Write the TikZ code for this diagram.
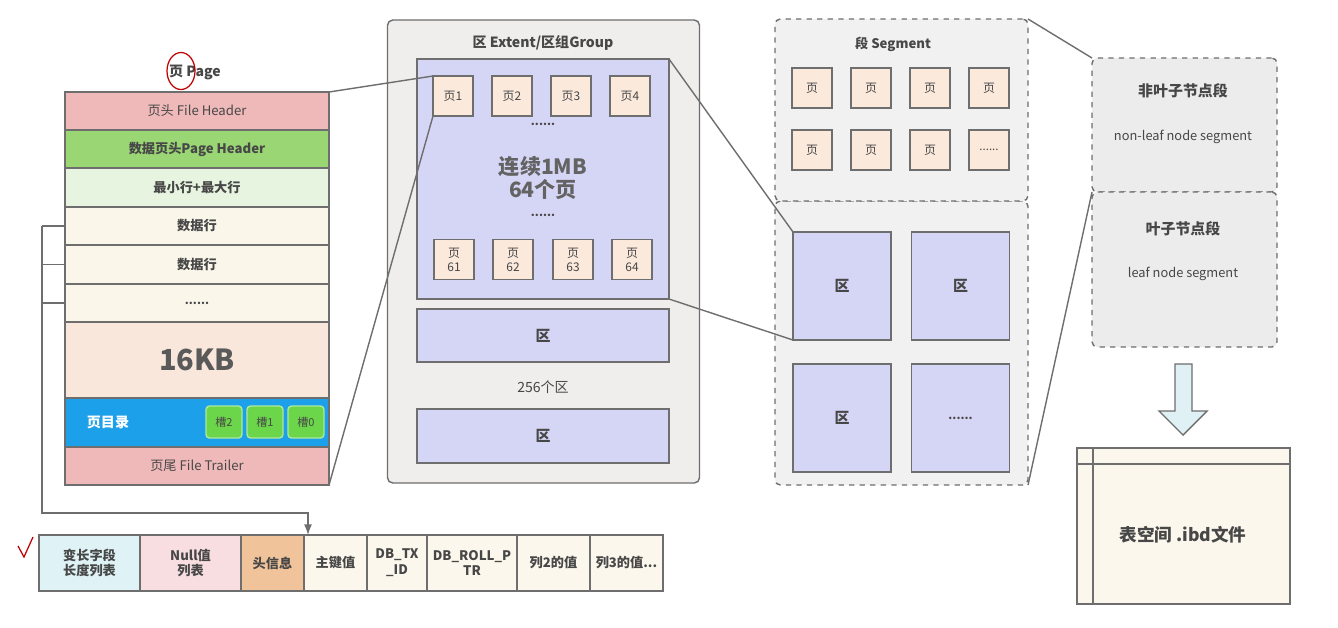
\documentclass[tikz,border=0pt]{standalone}
\usepackage{fontspec}
\setmainfont{Noto Sans CJK SC}
\usetikzlibrary{arrows.meta}
\definecolor{edge}{HTML}{6E6E6E}
\definecolor{txt}{HTML}{474747}
\definecolor{hdrc}{HTML}{F0B9B9}
\definecolor{phdrc}{HTML}{9AD674}
\definecolor{minc}{HTML}{E7F4DF}
\definecolor{rowc}{HTML}{FAF6EA}
\definecolor{kbc}{HTML}{F8E7DA}
\definecolor{dirc}{HTML}{1DA0EA}
\definecolor{slotc}{HTML}{6CD64B}
\definecolor{greyc}{HTML}{EFEEEC}
\definecolor{lavc}{HTML}{D5D5F5}
\definecolor{pagec}{HTML}{FBE9DC}
\definecolor{segc}{HTML}{F1F1F1}
\definecolor{leafc}{HTML}{ECECEC}
\definecolor{arrc}{HTML}{DFF1F5}
\definecolor{filec}{HTML}{FBF7EC}
\definecolor{varc}{HTML}{DFF3F7}
\definecolor{nullc}{HTML}{F9DEE1}
\definecolor{headc}{HTML}{F1C39B}
\tikzset{
  cell/.style 2 args={draw=edge,line width=0.8pt,inner sep=0pt,outer sep=0pt,
    minimum width=#1*0.02cm,minimum height=#2*0.02cm,text=txt,align=center,
    font=\fontsize{7.5}{9}\selectfont},
  pg/.style={cell={40}{40},fill=pagec,font=\fontsize{6.8}{8}\selectfont},
  lbl/.style={text=txt,inner sep=0pt},
  >={Latex[length=6pt,width=4.5pt]}
}
\begin{document}
\begin{tikzpicture}[x=0.02cm,y=-0.02cm]
    \useasboundingbox[fill=white] (0,0) rectangle (1338,627);
    % page
    \node[lbl,font=\fontsize{8}{9}\selectfont\bfseries] (pagetitle) at (195,72) {页 Page};
    \draw[red!75!black,line width=0.7pt] (181,71) ellipse [x radius=0.28cm, y radius=0.37cm];
    \node[cell={264}{38},fill=hdrc] (hdr) at (197,111) {页头 File Header};
    \node[cell={264}{38},fill=phdrc,font=\fontsize{7.5}{9}\selectfont\bfseries] (phdr) at (197,149) {数据页头Page Header};
    \node[cell={264}{39},fill=minc,font=\fontsize{7.5}{9}\selectfont\bfseries] (minmax) at (197,187.5) {最小行+最大行};
    \node[cell={264}{38},fill=rowc,font=\fontsize{7.5}{9}\selectfont\bfseries] (row1) at (197,226) {数据行};
    \node[cell={264}{39},fill=rowc,font=\fontsize{7.5}{9}\selectfont\bfseries] (row2) at (197,264.5) {数据行};
    \node[cell={264}{38},fill=rowc,font=\fontsize{6.5}{7}\selectfont\bfseries] (rowdots) at (197,303) {......};
    \node[cell={264}{76},fill=kbc,text=txt!90!white,font=\fontsize{16.5}{19}\selectfont\bfseries] (kb) at (197,360) {16KB};
    \node[cell={264}{49},fill=dirc] (dir) at (197,422.5) {};
    \node[lbl,text=white,font=\fontsize{8}{9}\selectfont\bfseries] (dirname) at (108,422.5) {页目录};
    \foreach \i/\x in {2/224,1/265,0/306}
      \node[cell={36}{32},fill=slotc,draw=slotc!55!white,rounded corners=2pt,font=\fontsize{6.3}{7}\selectfont] (slot\i) at (\x,422) {槽\i};
    \node[cell={264}{38},fill=hdrc] (trl) at (197,466) {页尾 File Trailer};
    % record
    \node[cell={101}{56},fill=varc,font=\fontsize{7.5}{9}\selectfont\bfseries] (var) at (89.5,563) {变长字段\\长度列表};
    \node[cell={101}{56},fill=nullc,font=\fontsize{7.5}{9}\selectfont\bfseries] (nul) at (190.5,563) {Null值\\列表};
    \node[cell={63}{56},fill=headc,font=\fontsize{7.5}{9}\selectfont\bfseries] (head) at (272.5,563) {头信息};
    \node[cell={63}{56},fill=filec,font=\fontsize{7.5}{9}\selectfont\bfseries] (pk) at (335.5,563) {主键值};
    \node[cell={60}{56},fill=filec,font=\fontsize{7.5}{9}\selectfont\bfseries] (trx) at (397,563) {DB\_TX\\\_ID};
    \node[cell={90}{56},fill=filec,font=\fontsize{7.5}{9}\selectfont\bfseries] (roll) at (472,563) {DB\_ROLL\_P\\TR};
    \node[cell={73}{56},fill=filec,font=\fontsize{7.5}{9}\selectfont\bfseries] (col2) at (553.5,563) {列2的值};
    \node[cell={73}{56},fill=filec,font=\fontsize{7.5}{9}\selectfont\bfseries] (col3) at (626.5,563) {列3的值...};
    \draw[red!75!black,line width=0.7pt] (18,546) -- (24,557) -- (33,537);
    \coordinate (bend) at (42,513);
    \foreach \r in {row1,row2,rowdots}
      \draw[edge,line width=0.8pt] (\r.west) -- (42,0 |- \r.west);
    \draw[edge,line width=0.8pt,->] (42,226) -- (bend) -- (308,513) -- (308,0 |- pk.north);
    % extent
    \node[cell={312}{463},fill=greyc,rounded corners=3pt] (extent) at (543.5,251.5) {};
    \node[lbl,font=\fontsize{8}{9}\selectfont\bfseries] (extitle) at (543,43) {区 Extent/区组Group};
    \node[cell={252}{240},fill=lavc] (ext1) at (543,179) {};
    \foreach \i/\x in {1/453,2/512,3/571,4/630}
      \node[pg] (p\i) at (\x,96) {页\i};
    \foreach \i/\x in {61/454,62/513,63/573,64/632}
      \node[pg] (p\i) at (\x,259.5) {页\\\i};
    \node[lbl,font=\fontsize{6.5}{7}\selectfont\bfseries] (dots1) at (543,124) {......};
    \node[lbl,font=\fontsize{6.5}{7}\selectfont\bfseries] (dots2) at (543,215) {......};
    \node[lbl,align=center,font=\fontsize{12}{13.5}\selectfont\bfseries,text=txt!85!white] (mb) at (543,178) {连续1MB\\64个页};
    \node[cell={252}{53},fill=lavc,font=\fontsize{8.5}{10}\selectfont\bfseries] (ext2) at (543,335.5) {区};
    \node[lbl,font=\fontsize{8}{9}\selectfont] (cnt) at (543,387) {256个区};
    \node[cell={252}{54},fill=lavc,font=\fontsize{8.5}{10}\selectfont\bfseries] (ext3) at (543,436) {区};
    \draw[edge,line width=0.8pt] (hdr.north east) -- (p1.north west);
    \draw[edge,line width=0.8pt] (trl.south east) -- (p1.south west);
    % segment
    \node[cell={253}{284},fill=segc,dashed,rounded corners=3pt] (segbot) at (901.5,343) {};
    \node[cell={253}{182},fill=segc,dashed,rounded corners=3pt] (segtop) at (901.5,110) {};
    \node[lbl,font=\fontsize{7.5}{9}\selectfont\bfseries] (segtitle) at (893,44) {段 Segment};
    \foreach \i/\x in {1/812,2/871,3/930,4/989}
      \node[pg] (s\i) at (\x,88) {页};
    \foreach \i/\x in {5/812,6/871,7/930}
      \node[pg] (s\i) at (\x,150) {页};
    \node[pg,font=\fontsize{6.5}{7}\selectfont] (s8) at (989,150) {......};
    \node[cell={98}{108},fill=lavc,font=\fontsize{8.5}{10}\selectfont\bfseries] (q1) at (842,286) {区};
    \node[cell={98}{108},fill=lavc,font=\fontsize{8.5}{10}\selectfont\bfseries] (q2) at (960.5,286) {区};
    \node[cell={98}{108},fill=lavc,font=\fontsize{8.5}{10}\selectfont\bfseries] (q3) at (842,418) {区};
    \node[cell={98}{108},fill=lavc,font=\fontsize{6.5}{7}\selectfont\bfseries] (q4) at (960.5,418) {......};
    \draw[edge,line width=0.8pt] (ext1.north east) -- (q1.north west);
    \draw[edge,line width=0.8pt] (ext1.south east) -- (q1.south west);
    % leaf / non-leaf
    \node[cell={185}{134},fill=leafc,dashed,rounded corners=3pt] (nonleaf) at (1184.5,125) {};
    \node[cell={185}{155},fill=leafc,dashed,rounded corners=3pt] (leaf) at (1184.5,269.5) {};
    \node[lbl,font=\fontsize{8.5}{10}\selectfont\bfseries] (nltitle) at (1183,91) {非叶子节点段};
    \node[lbl,font=\fontsize{7.3}{9}\selectfont] (nltext) at (1183,137) {non-leaf node segment};
    \node[lbl,font=\fontsize{8.5}{10}\selectfont\bfseries] (ltitle) at (1183,229) {叶子节点段};
    \node[lbl,font=\fontsize{7.3}{9}\selectfont] (ltext) at (1183,274) {leaf node segment};
    \draw[edge,line width=0.8pt] (segtop.north east) -- (nonleaf.north west);
    \draw[edge,line width=0.8pt] (segbot.south east) -- (leaf.north west);
    % tablespace
    \draw[edge,line width=0.8pt,fill=arrc] (1175,364) -- (1192,364) -- (1192,411) -- (1207,411) -- (1183,435) -- (1159,411) -- (1175,411) -- cycle;
    \node[cell={213}{156},fill=filec] (ibd) at (1183.5,526) {};
    \node[lbl,font=\fontsize{10}{12}\selectfont\bfseries] (ibdname) at (1183,535) {表空间 .ibd文件};
    \draw[edge,line width=0.8pt] (ibd.north west -| 1093,0) -- (ibd.south west -| 1093,0);
    \draw[edge,line width=0.8pt] (ibd.west |- 0,464) -- (ibd.east |- 0,464);
\end{tikzpicture}
\end{document}
